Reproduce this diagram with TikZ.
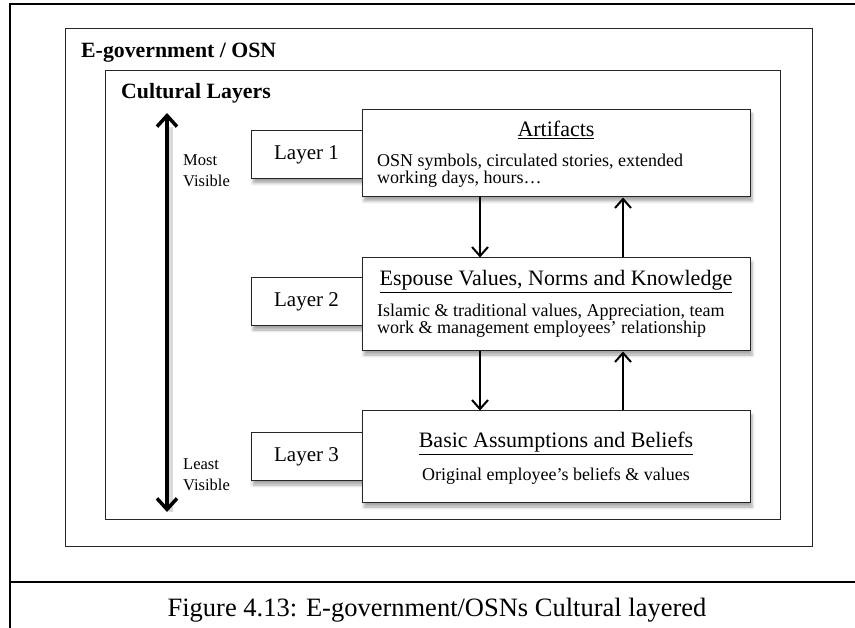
\documentclass[tikz,border=0pt]{standalone}
\usepackage{fontspec}
\setmainfont{Liberation Serif}
\usetikzlibrary{arrows.meta, positioning, shadows.blur}

\begin{document}
\begin{tikzpicture}[x=1pt, y=-1pt,
  frame/.style={draw=black!85, line width=1pt},
  heading/.style={font=\bfseries\fontsize{21.8}{24}\selectfont},
  layerbox/.style={draw=black!85, line width=1pt, fill=white,
    minimum width=111pt, minimum height=48pt, inner sep=0pt,
    font=\fontsize{21}{24}\selectfont,
    blur shadow={shadow xshift=2pt, shadow yshift=-4pt, shadow blur radius=3pt, shadow opacity=35}},
  mainbox/.style={layerbox, minimum width=388pt},
  boxtitle/.style={font=\fontsize{22}{24}\selectfont, inner sep=0pt},
  boxtext/.style={font=\fontsize{18}{17}\selectfont, inner sep=0pt},
  sidetext/.style={font=\fontsize{16.5}{21}\selectfont, align=left, inner sep=0pt},
  flow/.style={line width=2pt, -{Straight Barb[length=9pt, width=16pt]}},
]
\useasboundingbox (0,0) rectangle (855,628);

% page border with caption strip
\draw[line width=1.6pt] (10,628) -- (10,4) -- (855,4);
\draw[line width=1.6pt] (10,582) -- (855,582);
\node[anchor=base, font=\fontsize{26.5}{28}\selectfont, inner sep=0pt] (cap) at (437,616)
  {Figure 4.13: E-government/OSNs Cultural layered};

% nested frames
\draw[frame] (65,29) rectangle (812,546);
\node[heading, anchor=base west, inner sep=0pt] (egov) at (81,58) {E-government / OSN};
\draw[frame] (105,71) rectangle (780,519);
\node[heading, anchor=base west, inner sep=0pt] (cult) at (121,99) {Cultural Layers};

% visibility scale
\coordinate (vtop) at (167,113);
\coordinate (vbot) at (167,512);
\draw[black!25, line width=4pt, opacity=0.6] ([xshift=4pt]vtop) ++(0,14) -- ([xshift=4pt]vbot);
\draw[line width=3.5pt, {Straight Barb[length=11pt, width=20pt]}-{Straight Barb[length=11pt, width=20pt]}] (vtop) -- (vbot);
\node[sidetext, anchor=west] (most) at (183,171) {Most\\Visible};
\node[sidetext, anchor=west] (least) at (183,475) {Least\\Visible};

% layer labels
\node[layerbox] (l1) at (306.5,155) {Layer 1};
\node[layerbox] (l2) at (306.5,302) {Layer 2};
\node[layerbox] (l3) at (306.5,457) {Layer 3};

% layer contents
\node[mainbox, minimum height=87pt] (art) at (556,153.5) {};
\node[mainbox, minimum height=93pt] (esp) at (556,304.5) {};
\node[mainbox, minimum height=92pt] (bas) at (556,457) {};

\node[boxtitle, anchor=base] (artT) at (556,137) {\underline{Artifacts}};
\node[boxtext, anchor=base west, align=left] (artB) at (377,184)
  {OSN symbols, circulated stories, extended\\working days, hours\ldots};

\node[boxtitle, anchor=base] (espT) at (556,286) {\underline{Espouse Values, Norms and Knowledge}};
\node[boxtext, anchor=base west, align=left] (espB) at (377,334)
  {Islamic \& traditional values, Appreciation, team\\work \& management employees’ relationship};

\node[boxtitle, anchor=base] (basT) at (556,448) {\underline{Basic Assumptions and Beliefs}};
\node[boxtext, anchor=base] (basB) at (556,481) {Original employee’s beliefs \& values};

% links between layers
\draw[flow] ([xshift=-76pt]art.south) -- ([xshift=-76pt]esp.north);
\draw[flow] ([xshift=67pt]esp.north) -- ([xshift=67pt]art.south);
\draw[flow] ([xshift=-76pt]esp.south) -- ([xshift=-76pt]bas.north);
\draw[flow] ([xshift=67pt]bas.north) -- ([xshift=67pt]esp.south);

\end{tikzpicture}
\end{document}
